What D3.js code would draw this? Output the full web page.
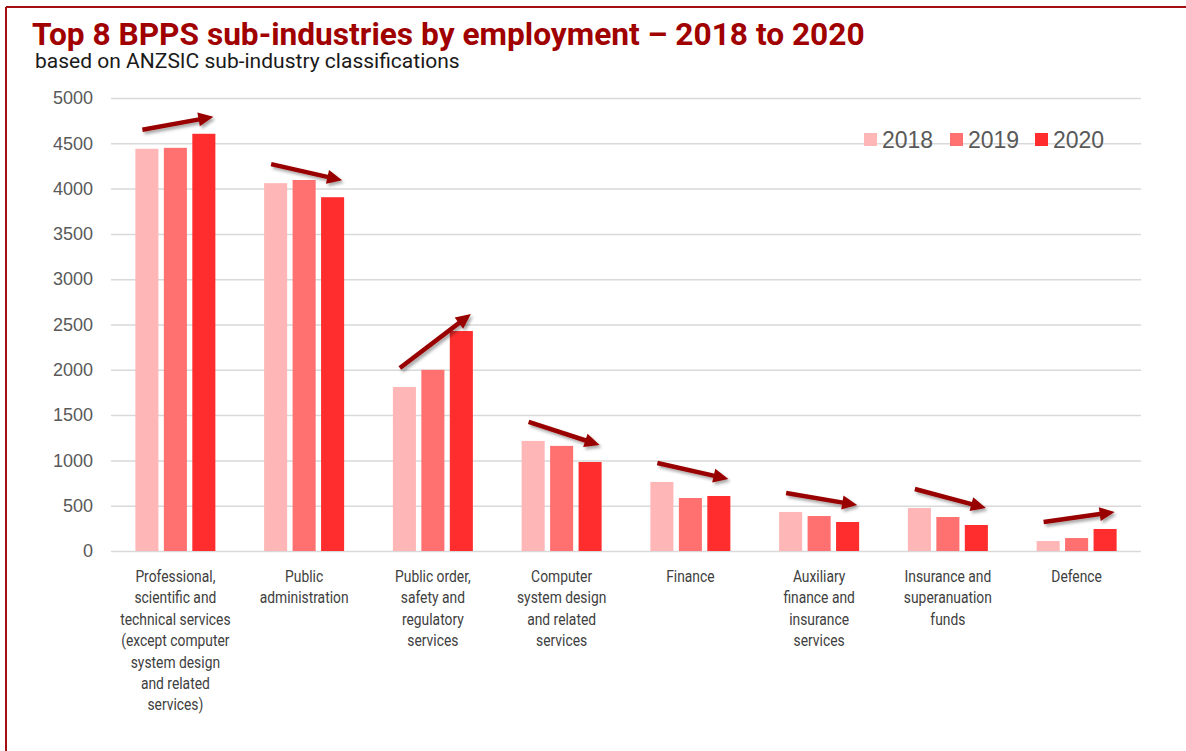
<!DOCTYPE html>
<html>
<head>
<meta charset="utf-8">
<script src="https://cdn.jsdelivr.net/npm/d3@7"></script>
<style>
  html, body { margin: 0; padding: 0; background: #fff; }
  svg { display: block; }
</style>
</head>
<body>
<svg id="chart" width="1186" height="751"></svg>
<script>
// ---- data ----
const categories = [
  "Professional,\nscientific and\ntechnical services\n(except computer\nsystem design\nand related\nservices)",
  "Public\nadministration",
  "Public order,\nsafety and\nregulatory\nservices",
  "Computer\nsystem design\nand related\nservices",
  "Finance",
  "Auxiliary\nfinance and\ninsurance\nservices",
  "Insurance and\nsuperanuation\nfunds",
  "Defence"
];
const years = ["2018", "2019", "2020"];
const values2018 = [4440, 4060, 1810, 1215, 762, 430, 475, 110];
const values2019 = [4450, 4095, 2000, 1160, 585, 386, 375, 143];
const values2020 = [4605, 3905, 2428, 982, 607, 320, 287, 243];
const yTicks = [0, 500, 1000, 1500, 2000, 2500, 3000, 3500, 4000, 4500, 5000];
const titleText = "Top 8 BPPS sub-industries by employment \u2013 2018 to 2020";
const subtitleText = "based on ANZSIC sub-industry classifications";

const seriesValues = { "2018": values2018, "2019": values2019, "2020": values2020 };
const colors = { "2018": "#ffb6b6", "2019": "#ff7171", "2020": "#ff2d2d" };

// ---- layout ----
const svg = d3.select("#chart");
const W = 1186, H = 751;
const plot = { left: 111, right: 1141, top: 98, bottom: 551 };

// frame
svg.append("line").attr("x1", 6).attr("x2", W).attr("y1", 7).attr("y2", 7)
  .attr("stroke", "#a50f0f").attr("stroke-width", 2);
svg.append("line").attr("x1", 6).attr("x2", 6).attr("y1", 7).attr("y2", H)
  .attr("stroke", "#a50f0f").attr("stroke-width", 2);

// title
function fitText(sel, targetW) {
  const w = sel.node().getComputedTextLength();
  const fs = parseFloat(sel.attr("font-size"));
  sel.attr("font-size", fs * targetW / w);
}
const title = svg.append("text").attr("x", 32).attr("y", 45)
  .attr("font-family", "Roboto, 'Liberation Sans', sans-serif")
  .attr("font-weight", 700).attr("font-size", 26).attr("fill", "#a00000")
  .text(titleText);
fitText(title, 833);
const sub = svg.append("text").attr("x", 35).attr("y", 68)
  .attr("font-family", "Roboto, 'Liberation Sans', sans-serif")
  .attr("font-size", 17).attr("fill", "#1a1a1a")
  .text(subtitleText);
fitText(sub, 425);

// scales
const y = d3.scaleLinear().domain([0, 5000]).range([plot.bottom, plot.top]);
const x = d3.scaleBand().domain(categories).range([plot.left, plot.right]).padding(0);
const xs = d3.scaleBand().domain(years).range([0, 80]).paddingInner(0.19).paddingOuter(0);
const groupOff = (x.bandwidth() - 80) / 2;

// grid + y axis
const yAxis = d3.axisLeft(y).tickValues(yTicks).tickSize(-(plot.right - plot.left)).tickFormat(d3.format("d"));
const gy = svg.append("g").attr("transform", `translate(${plot.left},0)`).call(yAxis);
gy.select(".domain").remove();
gy.selectAll(".tick line").attr("stroke", "#d9d9d9").attr("stroke-width", 1.5);
gy.selectAll(".tick text").attr("x", -18).attr("font-family", "'Liberation Sans', Arial, sans-serif")
  .attr("font-size", 18).attr("fill", "#595959");

// bars
const data = [];
categories.forEach((c, i) => years.forEach(yr => data.push({ cat: c, year: yr, v: seriesValues[yr][i] })));
svg.append("g").selectAll("rect").data(data).join("rect")
  .attr("x", d => x(d.cat) + groupOff + xs(d.year))
  .attr("y", d => y(d.v))
  .attr("width", xs.bandwidth())
  .attr("height", d => y(0) - y(d.v))
  .attr("fill", d => colors[d.year]);

// category labels (condensed look)
const gx = svg.append("g");
categories.forEach(c => {
  const lines = c.split("\n");
  const t = gx.append("text")
    .attr("transform", `translate(${x(c) + x.bandwidth() / 2},0) scale(0.84,1)`)
    .attr("text-anchor", "middle")
    .attr("font-family", "Roboto, 'Liberation Sans', sans-serif")
    .attr("font-size", 16.5).attr("fill", "#404040");
  lines.forEach((ln, j) => {
    t.append("tspan").attr("x", 0).attr("y", 582 + j * 21.4).text(ln);
  });
});

// trend arrows
const defs = svg.append("defs");
const f = defs.append("filter").attr("id", "shadow").attr("x", "-20%").attr("y", "-50%").attr("width", "140%").attr("height", "200%");
f.append("feDropShadow").attr("dx", 2).attr("dy", 2.5).attr("stdDeviation", 1.8)
  .attr("flood-color", "#000").attr("flood-opacity", 0.35);
const ga = svg.append("g").attr("filter", "url(#shadow)");
categories.forEach((c, i) => {
  const x0 = x(c) + groupOff + 7;
  const x1 = x(c) + groupOff + 78;
  const y0 = y(values2018[i]) - 19;
  const y1 = y(values2020[i]) - 17;
  const ang = Math.atan2(y1 - y0, x1 - x0);
  const headL = 15, headW = 7;
  const bx = x1 - headL * Math.cos(ang), by = y1 - headL * Math.sin(ang);
  ga.append("line").attr("x1", x0).attr("y1", y0).attr("x2", bx + 2 * Math.cos(ang)).attr("y2", by + 2 * Math.sin(ang))
    .attr("stroke", "#990000").attr("stroke-width", 4.5);
  const px = -Math.sin(ang), py = Math.cos(ang);
  ga.append("path")
    .attr("d", `M${x1},${y1}L${bx + px * headW},${by + py * headW}L${bx - px * headW},${by - py * headW}Z`)
    .attr("fill", "#990000");
});

// legend
const lg = svg.append("g");
const legendX = [864, 950, 1035];
years.forEach((yr, i) => {
  lg.append("rect").attr("x", legendX[i]).attr("y", 133).attr("width", 13).attr("height", 13).attr("fill", colors[yr]);
  lg.append("text").attr("x", legendX[i] + 18).attr("y", 147.5)
    .attr("font-family", "'Liberation Sans', Arial, sans-serif").attr("font-size", 23).attr("fill", "#595959")
    .text(yr);
});
</script>
</body>
</html>
